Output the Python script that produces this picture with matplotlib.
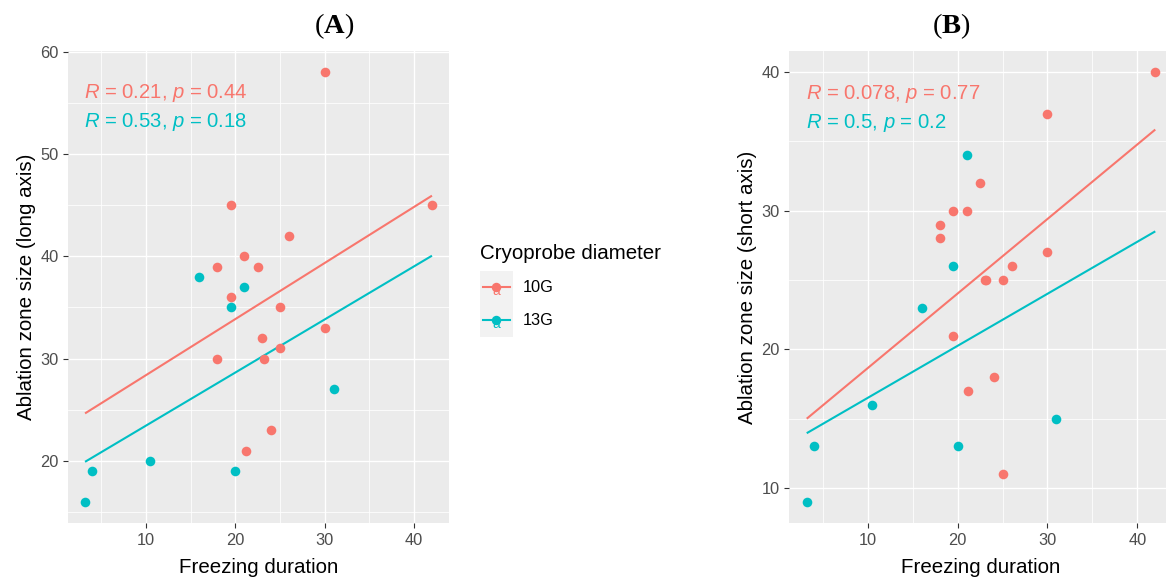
import matplotlib
matplotlib.use("Agg")
import matplotlib.pyplot as plt
import numpy as np
from matplotlib.legend_handler import HandlerBase
from matplotlib.lines import Line2D
from matplotlib.patches import Rectangle
from matplotlib.text import Text
from matplotlib.ticker import MultipleLocator

plt.rcParams["font.family"] = ["Liberation Sans", "DejaVu Sans"]
plt.rcParams["mathtext.fontset"] = "custom"
plt.rcParams["mathtext.rm"] = "Liberation Sans"
plt.rcParams["mathtext.it"] = "Liberation Sans:italic"
plt.rcParams["mathtext.bf"] = "Liberation Serif:bold"

# ---------------- data ----------------
groups = ["10G", "13G"]
colors = ["#F8766D", "#00BFC4"]

# Panel A: long axis
a_x_10g = [30, 19.5, 42, 26, 21, 18, 22.5, 19.5, 25, 23, 18, 23.2, 25, 30, 24, 21.2]
a_y_10g = [58, 45, 45, 42, 40, 39, 39, 36, 35, 32, 30, 30, 31, 33, 23, 21]
a_x_13g = [16, 21, 19.5, 31, 10.5, 4, 20, 3.2]
a_y_13g = [38, 37, 35, 27, 20, 19, 19, 16]

# Panel B: short axis
b_x_10g = [42, 30, 22.5, 19.5, 21, 18, 18, 30, 26, 23, 23.2, 25, 19.5, 24, 21.2, 25]
b_y_10g = [40, 37, 32, 30, 30, 29, 28, 27, 26, 25, 25, 25, 21, 18, 17, 11]
b_x_13g = [21, 19.5, 16, 10.5, 31, 4, 20, 3.2]
b_y_13g = [34, 26, 23, 16, 15, 13, 13, 9]

a_stats = [("0.21", "0.44"), ("0.53", "0.18")]
b_stats = [("0.078", "0.77"), ("0.5", "0.2")]

panel_titles = ["A", "B"]
y_titles = ["Ablation zone size (long axis)", "Ablation zone size (short axis)"]
x_title = "Freezing duration"
legend_title = "Cryoprobe diameter"

# ---------------- layout helpers ----------------
W, H = 1166, 578
DPI = 100


def fx(px):
    return px / W


def fy(py):
    return 1 - py / H


def expand(vals):
    lo, hi = min(vals), max(vals)
    d = (hi - lo) * 0.05
    return lo - d, hi + d


fig = plt.figure(figsize=(W / DPI, H / DPI), dpi=DPI)
fig.patch.set_facecolor("white")

panel_top, panel_bot = 50.7, 523.3
panels = [
    dict(left=67.7, right=449.3, xs=[a_x_10g, a_x_13g], ys=[a_y_10g, a_y_13g],
         stats=a_stats, ylab_x=31.7, title_x=334, stat_y=[55.45, 52.6]),
    dict(left=789.3, right=1172.7, xs=[b_x_10g, b_x_13g], ys=[b_y_10g, b_y_13g],
         stats=b_stats, ylab_x=753.3, title_x=951.7, stat_y=[38.07, 35.98]),
]

TICK_COL = "#4D4D4D"

axes = []
for i, p in enumerate(panels):
    ax = fig.add_axes([fx(p["left"]), fy(panel_bot),
                       (p["right"] - p["left"]) / W, (panel_bot - panel_top) / H])
    axes.append(ax)
    ax.set_facecolor("#EBEBEB")
    for s in ax.spines.values():
        s.set_visible(False)

    all_x = p["xs"][0] + p["xs"][1]
    all_y = p["ys"][0] + p["ys"][1]
    ax.set_xlim(*expand(all_x))
    ax.set_ylim(*expand(all_y))

    ax.xaxis.set_major_locator(MultipleLocator(10))
    ax.xaxis.set_minor_locator(MultipleLocator(5))
    ax.yaxis.set_major_locator(MultipleLocator(10))
    ax.yaxis.set_minor_locator(MultipleLocator(5))
    ax.grid(which="major", color="white", lw=1.0, zorder=0)
    ax.grid(which="minor", color="white", lw=0.55, zorder=0)
    ax.set_axisbelow(True)
    ax.tick_params(which="major", length=3.7, width=0.8, color="#333333",
                   labelsize=11.8, labelcolor=TICK_COL, pad=3.0)
    ax.tick_params(which="minor", length=0)

    xmin, xmax = min(all_x), max(all_x)
    xfit = np.array([xmin, xmax])
    for g in range(2):
        xs = np.array(p["xs"][g], dtype=float)
        ys = np.array(p["ys"][g], dtype=float)
        slope, icpt = np.polyfit(xs, ys, 1)
        ax.plot(xfit, icpt + slope * xfit, color=colors[g], lw=1.5, zorder=2,
                solid_capstyle="butt")
        ax.scatter(xs, ys, s=48, color=colors[g], linewidths=0, zorder=3)

    for g in range(2):
        r, pv = p["stats"][g]
        ax.text(3.1, p["stat_y"][g], r"$R$ = " + r + r", $p$ = " + pv,
                color=colors[g], fontsize=14.6, ha="left", va="baseline")

    # axis titles
    fig.text(fx((p["left"] + p["right"]) / 2), fy(573.3), x_title,
             ha="center", va="baseline", fontsize=14.8, color="black")
    fig.text(fx(p["ylab_x"]), fy((panel_top + panel_bot) / 2), y_titles[i],
             rotation=90, rotation_mode="anchor", ha="center", va="baseline",
             fontsize=14.8, color="black")
    # panel title
    fig.text(fx(p["title_x"]), fy(33.5), "(" + r"$\mathbf{" + panel_titles[i] + "}$" + ")",
             ha="center", va="baseline", fontsize=20.5, family="Liberation Serif",
             color="black")


class KeyHandler(HandlerBase):
    def create_artists(self, legend, orig_handle, xdescent, ydescent, width,
                       height, fontsize, trans):
        c = orig_handle.get_color()
        x0, y0 = -xdescent, -ydescent
        w, h = width, height
        cx, cy = x0 + w / 2, y0 + h / 2
        bg = Rectangle((x0, y0), w, h, facecolor="#F2F2F2", edgecolor="none",
                       transform=trans)
        txt = Text(cx, cy - 2.5, "a", color=c, fontsize=10, ha="center",
                   va="center", transform=trans)
        ln = Line2D([x0 + 0.1 * w, x0 + 0.9 * w], [cy, cy], color=c, lw=1.5,
                    transform=trans)
        dot = Line2D([cx], [cy + 0.5], marker="o", ms=6.8, color=c, mec="none",
                     ls="none", transform=trans)
        return [bg, txt, ln, dot]


handles = [Line2D([], [], color=c) for c in colors]
leg = fig.legend(handles, groups, title=legend_title, loc="upper left",
                 bbox_to_anchor=(fx(480.0), fy(243.5)), frameon=False,
                 fontsize=11.8, title_fontsize=14.8, handlelength=2.0,
                 handleheight=2.72, handletextpad=0.6, labelspacing=0.0,
                 borderpad=0.0, borderaxespad=0.0, alignment="left",
                 handler_map={Line2D: KeyHandler()})
leg._legend_box.sep = 6.0

fig.savefig("out.png", dpi=DPI, facecolor="white")
